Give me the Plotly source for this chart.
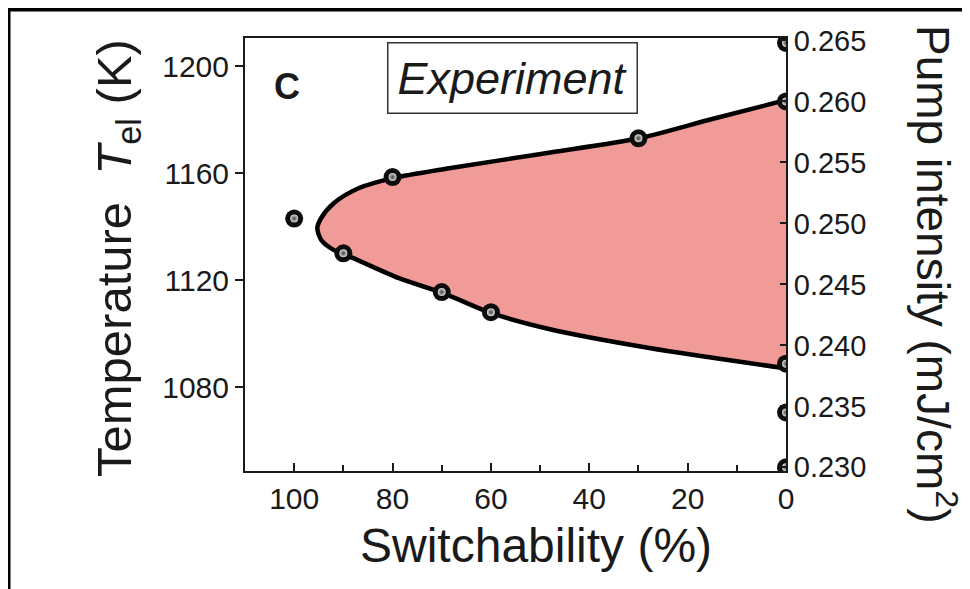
import plotly.graph_objects as go

#---
# data
#---
# measured points (left axis, temperature in K)
sw_points = [100, 90, 80, 70, 60, 30]
temp_points = [1143, 1130, 1158.5, 1115.5, 1108, 1173]

# measured points at zero switchability (right axis, pump intensity)
pump_sw = [0, 0, 0, 0, 0]
pump_points = [0.2648, 0.2600, 0.2385, 0.2345, 0.2300]

# boundary of the switchable region, upper branch -> tip -> lower branch
curve_sw = [0, 15.0, 29.7, 48.2, 68.5, 79.9, 86.8, 91.9, 94.5, 95.3,
            94.5, 91.9, 89.8, 78.7, 69.7, 60.0, 48.2, 27.8, 0]
curve_temp = [1187.3, 1180.2, 1173.1, 1167.6, 1161.8, 1158.1, 1154.4, 1148.8, 1143.2, 1139.4,
              1135.0, 1131.2, 1129.7, 1120.7, 1115.1, 1107.7, 1101.7, 1094.6, 1087.0]

x_ticks = [100, 80, 60, 40, 20, 0]
y_ticks = [1080, 1120, 1160, 1200]
y2_ticks = [0.230, 0.235, 0.240, 0.245, 0.250, 0.255, 0.260, 0.265]

#---
# layout config
#---
OFF = 8  # page body margin
W, H = 970 - OFF, 589 - OFF
L, R, T, B = 245 - OFF, 184, 38 - OFF, 118
PW, PH = W - L - R, H - T - B

# positions below are given in screen pixels and mapped to paper coords
def px(x):
    return (x - OFF - L) / PW

def py(y):
    return (H - B - (y - OFF)) / PH

FONT = "Liberation Sans, Arial, sans-serif"
AXIS_COLOR = "#1a1a1a"
FILL = "#f09b98"

fig = go.Figure()

fig.add_trace(go.Scatter(
    x=curve_sw, y=curve_temp,
    mode="lines", fill="toself", fillcolor=FILL,
    line=dict(color="black", width=4.5, shape="spline", smoothing=0.8),
    hoverinfo="skip",
))

# sphere-like markers: black ball + soft highlight
for xs, ys, axis in [(sw_points, temp_points, "y"), (pump_sw, pump_points, "y2")]:
    fig.add_trace(go.Scatter(
        x=xs, y=ys, yaxis=axis, mode="markers",
        marker=dict(size=18, color="#111111", line=dict(width=0),
                    gradient=dict(type="radial", color="black")),
    ))
    fig.add_trace(go.Scatter(
        x=xs, y=ys, yaxis=axis, mode="markers",
        marker=dict(size=8, color="#d9d9d9", line=dict(width=0),
                    gradient=dict(type="radial", color="#444444")),
    ))

fig.update_layout(
    width=W, height=H,
    margin=dict(l=L, r=R, t=T, b=B),
    paper_bgcolor="white", plot_bgcolor="white",
    showlegend=False,
    font=dict(family=FONT, color="#1a1a1a"),
    xaxis=dict(
        range=[110, 0], tickvals=x_ticks, ticks="inside", ticklen=8, tickwidth=2,
        tickcolor=AXIS_COLOR, showline=True, linecolor=AXIS_COLOR, linewidth=2, mirror=True,
        showgrid=False, zeroline=False, tickfont=dict(size=30),
        minor=dict(dtick=10, ticks="inside", ticklen=6, tickwidth=2, tickcolor=AXIS_COLOR),
    ),
    yaxis=dict(
        range=[1048.6, 1210.5], tickvals=y_ticks, ticks="outside", ticklen=8, tickwidth=2,
        tickcolor=AXIS_COLOR, showline=True, linecolor=AXIS_COLOR, linewidth=2,
        showgrid=False, zeroline=False, tickfont=dict(size=30),
    ),
    yaxis2=dict(
        range=[0.2297, 0.2652], tickvals=y2_ticks, tickformat=".3f", overlaying="y", side="right",
        ticks="inside", ticklen=6, tickwidth=2, tickcolor=AXIS_COLOR,
        showline=True, linecolor=AXIS_COLOR, linewidth=2,
        showgrid=False, zeroline=False, tickfont=dict(size=29),
    ),
)

annotations = [
    dict(text="Switchability (%)", x=px(536), y=py(545), font=dict(size=48)),
    dict(text="Temperature  <i>T</i><sub>el</sub> (K)", x=px(118), y=py(258),
         textangle=-90, font=dict(size=49)),
    dict(text="Pump intensity (mJ/cm<sup>2</sup>)", x=px(936), y=py(274),
         textangle=90, font=dict(size=46)),
    dict(text="<b>C</b>", x=px(287), y=py(87), font=dict(size=36)),
    dict(text="<i>Experiment</i>", x=px(512), y=py(78), font=dict(size=45),
         bordercolor="#333333", borderwidth=1.5, borderpad=9, bgcolor="white"),
]
for a in annotations:
    a.update(xref="paper", yref="paper", showarrow=False, xanchor="center", yanchor="middle")
fig.update_layout(annotations=annotations)

# screenshot frame: black border along the top and left
shapes = [
    dict(type="line", x0=px(6), x1=px(980), y0=py(9.5), y1=py(9.5), line=dict(color="black", width=4)),
    dict(type="line", x0=px(8.5), x1=px(8.5), y0=py(7), y1=py(600), line=dict(color="black", width=4)),
]
for s in shapes:
    s.update(xref="paper", yref="paper", layer="above")
fig.update_layout(shapes=shapes)

fig.write_html("out.html")
